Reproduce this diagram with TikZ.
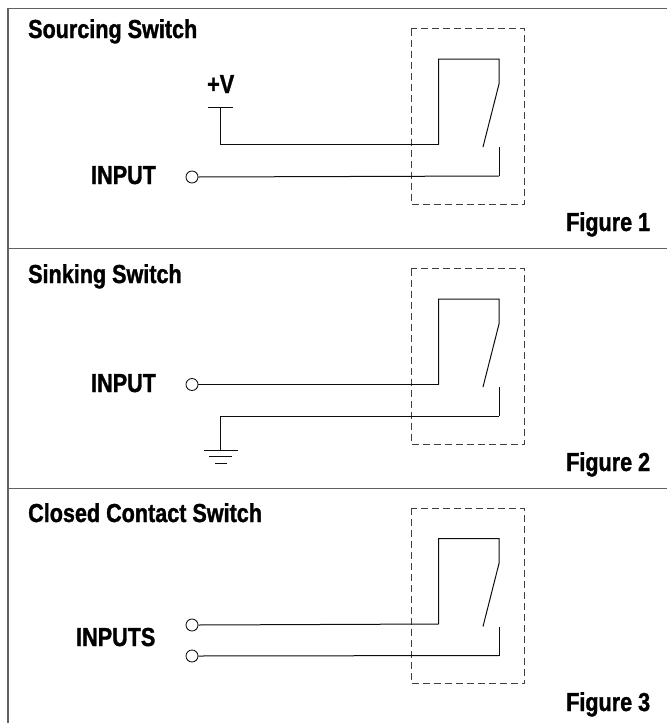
\documentclass[tikz,border=0pt]{standalone}
\usepackage{fontspec}
\setmainfont{Liberation Sans}
\newfontfamily\lblfont[FakeStretch=0.83,FakeBold=1.2]{Liberation Sans Bold}
\tikzset{
  frameline/.style={draw=black!62,line width=1.7pt},
  wire/.style={draw=black!95,line width=1pt},
  dashbox/.style={draw=black!75,line width=1pt,dash pattern=on 7pt off 4pt},
  term/.style={circle,draw=black!95,line width=0.85pt,fill=white,minimum size=12pt,inner sep=0pt},
  lbl/.style={font=\lblfont\fontsize{26}{26}\selectfont,anchor=base west,inner sep=0pt,text=black},
}
% one relay contact set with its dashed enclosure; #1 prefix, #2 vertical offset in px
\newcommand{\relayunit}[2]{%
  \begin{scope}[shift={(0,#2)}]
    \draw[dashbox] (411,28.5) rectangle (524.5,204);
    \coordinate (#1in) at (438.5,144.5);
    \coordinate (#1tl) at (438.5,59);
    \coordinate (#1tr) at (499,59);
    \coordinate (#1pv) at (499,84);
    \coordinate (#1bl) at (483,147);
    \coordinate (#1ct) at (499,147);
    \coordinate (#1cb) at (499,176);
    \draw[wire] (#1in) -- (#1tl) -- (#1tr) -- (#1pv) -- (#1bl);
    \draw[wire] (#1ct) -- (#1cb);
  \end{scope}}
\begin{document}
\begin{tikzpicture}[x=1pt,y=-1pt]
\useasboundingbox (0,0) rectangle (667,723);
% frame
\coordinate (ftl) at (8,8.5); \coordinate (ftr) at (667,8.5);
\coordinate (fbl) at (8,723);
\coordinate (d1l) at (8,248.5); \coordinate (d1r) at (667,248.5);
\coordinate (d2l) at (8,488.5); \coordinate (d2r) at (667,488.5);
\draw[frameline] (ftr) -- (ftl) -- (fbl);
\draw[frameline] (d1l) -- (d1r);
\draw[frameline] (d2l) -- (d2r);

% --- Figure 1
\relayunit{a}{0}
\node[lbl] (t1) at (28,38) {Sourcing Switch};
\node[lbl] (v1) at (207,93) {+V};
\node[lbl] (i1) at (91,184) {INPUT};
\node[lbl] (f1) at (566,231) {Figure 1};
\node[term] (c1) at (192,177) {};
\coordinate (vt) at (220.5,107);
\coordinate (vl) at (208,107); \coordinate (vr) at (233,107);
\coordinate (vc) at (220.5,144.5);
\draw[wire] (vl) -- (vr);
\draw[wire] (vt) -- (vc) -- (ain);
\draw[wire] (c1.east) -- (acb);

% --- Figure 2
\relayunit{b}{240}
\node[lbl] (t2) at (28,283) {Sinking Switch};
\node[lbl] (i2) at (91,392) {INPUT};
\node[lbl] (f2) at (566,471) {Figure 2};
\node[term] (c2) at (192,384.5) {};
\coordinate (gc) at (220.5,416);
\coordinate (gt) at (220.5,450);
\coordinate (g1l) at (204,450); \coordinate (g1r) at (237.5,450);
\coordinate (g2l) at (209,456.5); \coordinate (g2r) at (232,456.5);
\coordinate (g3l) at (215,463); \coordinate (g3r) at (227,463);
\draw[wire] (c2.east) -- (bin);
\draw[wire] (bcb) -- (gc) -- (gt);
\draw[wire] (g1l) -- (g1r);
\draw[wire] (g2l) -- (g2r);
\draw[wire] (g3l) -- (g3r);

% --- Figure 3
\relayunit{e}{479.5}
\node[lbl] (t3) at (28,522) {Closed Contact Switch};
\node[lbl] (i3) at (76,646) {INPUTS};
\node[lbl] (f3) at (566,711) {Figure 3};
\node[term] (c3) at (192,625) {};
\node[term] (c4) at (192,656) {};
\draw[wire] (c3.east) -- (ein);
\draw[wire] (c4.east) -- (ecb);
\end{tikzpicture}
\end{document}
